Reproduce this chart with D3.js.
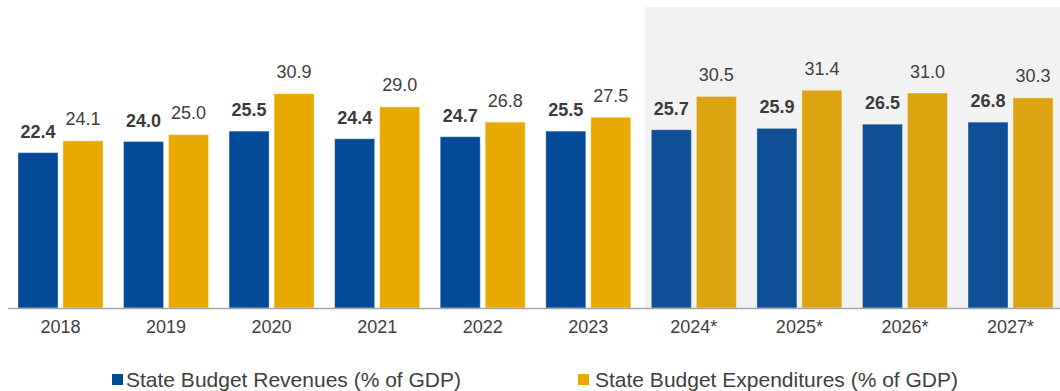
<!DOCTYPE html>
<html>
<head>
<meta charset="utf-8">
<script src="https://cdn.jsdelivr.net/npm/d3@7"></script>
<style>
  html, body { margin: 0; padding: 0; background: #ffffff; }
  svg { display: block; font-family: "Liberation Sans", Arial, sans-serif; }
</style>
</head>
<body>
<svg id="chart" width="1060" height="391"></svg>
<script>
// Years (an asterisk marks projected years)
const years = ["2018", "2019", "2020", "2021", "2022", "2023", "2024*", "2025*", "2026*", "2027*"];
// State budget revenues, % of GDP
const revenues = [22.4, 24.0, 25.5, 24.4, 24.7, 25.5, 25.7, 25.9, 26.5, 26.8];
// State budget expenditures, % of GDP
const expenditures = [24.1, 25.0, 30.9, 29.0, 26.8, 27.5, 30.5, 31.4, 31.0, 30.3];
// Legend entries
const seriesNames = ["State Budget Revenues (% of GDP)", "State Budget Expenditures (% of GDP)"];

const svg = d3.select("#chart");
const baseY = 308;

const x = d3.scaleBand().domain(years).range([7.7, 1063.3]).paddingInner(0).paddingOuter(0);
const y = d3.scaleLinear().domain([0, 43.4]).range([baseY, 7]);

const barW = 40, pairGap = 5;
const groupW = barW * 2 + pairGap;
const groupStart = d => x(d) + (x.bandwidth() - groupW) / 2;
const isForecast = d => d.includes("*");

const colors = {
  rev: "#034a98", exp: "#e8aa00",
  revF: "#0f4f96", expF: "#dba410"
};

// Shaded panel behind the projected years
const firstF = years.find(isForecast);
svg.append("rect")
  .attr("x", groupStart(firstF) - 6.5)
  .attr("y", 7)
  .attr("width", 1060 - (groupStart(firstF) - 6.5))
  .attr("height", baseY - 7)
  .attr("fill", "#f2f2f2");

const rows = years.map((yr, i) => ({ yr, rev: revenues[i], exp: expenditures[i] }));

const g = svg.append("g");
const grp = g.selectAll("g.grp").data(rows).join("g").attr("class", "grp");

// Revenue bars
grp.append("rect")
  .attr("x", d => groupStart(d.yr))
  .attr("y", d => y(d.rev))
  .attr("width", barW)
  .attr("height", d => baseY - y(d.rev))
  .attr("fill", d => isForecast(d.yr) ? colors.revF : colors.rev)
  .attr("stroke", "#ffffff").attr("stroke-opacity", 0.35).attr("stroke-width", 1);

// Expenditure bars
grp.append("rect")
  .attr("x", d => groupStart(d.yr) + barW + pairGap)
  .attr("y", d => y(d.exp))
  .attr("width", barW)
  .attr("height", d => baseY - y(d.exp))
  .attr("fill", d => isForecast(d.yr) ? colors.expF : colors.exp)
  .attr("stroke", "#ffffff").attr("stroke-opacity", 0.35).attr("stroke-width", 1);

// Value labels
grp.append("text")
  .attr("x", d => groupStart(d.yr) + barW / 2)
  .attr("y", d => y(d.rev) - 15)
  .attr("text-anchor", "middle")
  .attr("font-size", 18).attr("font-weight", "bold")
  .attr("fill", "#3b3b3b")
  .text(d => d.rev.toFixed(1));

grp.append("text")
  .attr("x", d => groupStart(d.yr) + barW * 1.5 + pairGap)
  .attr("y", d => y(d.exp) - 15.5)
  .attr("text-anchor", "middle")
  .attr("font-size", 18)
  .attr("fill", "#404040")
  .text(d => d.exp.toFixed(1));

// Category axis
const axis = svg.append("g")
  .attr("transform", `translate(0,${baseY})`)
  .call(d3.axisBottom(x).tickSize(0).tickPadding(12));
axis.select(".domain").remove();
axis.selectAll("text")
  .attr("font-size", 18)
  .attr("font-family", "Liberation Sans, Arial, sans-serif")
  .attr("fill", "#404040")
  .attr("dy", "0.71em");

svg.append("line")
  .attr("x1", 8).attr("x2", 1060)
  .attr("y1", baseY + 0.5).attr("y2", baseY + 0.5)
  .attr("stroke", "#a6a6a6").attr("stroke-width", 1.5);

// Legend
const legendItems = [
  { name: seriesNames[0], color: colors.rev, sx: 112, tx: 126 },
  { name: seriesNames[1], color: colors.exp, sx: 578, tx: 595 }
];
const lg = svg.append("g").selectAll("g").data(legendItems).join("g");
lg.append("rect")
  .attr("x", d => d.sx).attr("y", 374)
  .attr("width", 11).attr("height", 11)
  .attr("fill", d => d.color);
lg.append("text")
  .attr("x", d => d.tx).attr("y", 387)
  .attr("font-size", 21)
  .attr("fill", "#404040")
  .text(d => d.name);
</script>
</body>
</html>
